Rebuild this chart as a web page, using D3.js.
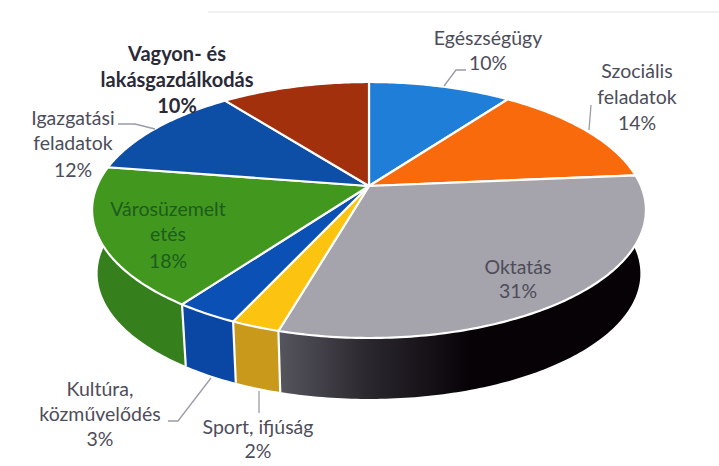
<!DOCTYPE html>
<html><head><meta charset="utf-8">
<style>html,body{margin:0;background:#fff}svg{display:block}text{font-family:Lato,"Open Sans",sans-serif}</style>
<script src="https://cdn.jsdelivr.net/npm/d3@7/dist/d3.min.js"></script></head>
<body><svg id="c" width="719" height="466"></svg>
<script>
const categories=["Egészségügy","Szociális feladatok","Oktatás","Sport, ifjúság","Kultúra, közművelődés","Városüzemeltetés","Igazgatási feladatok","Vagyon- és lakásgazdálkodás"];
const shares=[10,13.6,30.8,2.4,3.1,17.6,12.1,10.4];
const topColors=["#1f7fd8","#f96a0c","#a5a3ab","#fcc410","#0b50b4","#42981f","#0d4fa6","#a2300c"];
const wallColors=["#155a9c","#b04a08","url(#okt)","#c8991a","#0a47a4","#357f1c","#0a3d80","#74220a"];
const labelLines=[["Egészségügy"],["Szociális","feladatok"],["Oktatás"],["Sport, ifjúság"],["Kultúra,","közművelődés"],["Városüzemelt","etés"],["Igazgatási","feladatok"],["Vagyon- és","lakásgazdálkodás"]];

const svg=d3.select("#c");
const defs=svg.append("defs");
const g=defs.append("linearGradient").attr("id","okt").attr("gradientUnits","userSpaceOnUse").attr("x1",280).attr("x2",470).attr("y1",0).attr("y2",0);
g.append("stop").attr("offset",0).attr("stop-color","#55555d");
g.append("stop").attr("offset",.45).attr("stop-color","#2c2830");
g.append("stop").attr("offset",1).attr("stop-color","#060206");

// faint scan residue along the top of the page
svg.append("line").attr("x1",208).attr("x2",719).attr("y1",12).attr("y2",12).attr("stroke","#f1f1f1").attr("stroke-width",2);

// perspective projection of the pie disc
const cx=369,cy=186,R=272,S=123.5,k=0.1875,depth=64,shrink=0.98;
const project=(a,r,low)=>{
  const X=Math.sin(a)*r,Y=-Math.cos(a)*r,w=1-k*Y,s=low?shrink:1;
  return [cx+s*R*X/w,cy+s*S*Y/w+(low?depth:0)];
};
const arcs=d3.pie().sort(null).value(d=>d)(shares);
const samples=d=>{const n=Math.max(4,Math.ceil((d.endAngle-d.startAngle)/0.015));
  return d3.range(n+1).map(i=>d.startAngle+(d.endAngle-d.startAngle)*i/n);};
const line=d3.line();

// walls
svg.append("g").selectAll("path").data(arcs).join("path")
  .attr("fill",(d,i)=>wallColors[i])
  .attr("d",d=>{const t=samples(d);
    return line(t.map(a=>project(a,1,false)).concat(t.slice().reverse().map(a=>project(a,1,true))))+"Z";});
// wall separators on the visible front
svg.append("g").selectAll("path").data(arcs.filter(d=>Math.cos(d.endAngle)<-0.3)).join("path")
  .attr("fill","none").attr("stroke","#fff").attr("stroke-width",2.2)
  .attr("d",d=>line([project(d.endAngle,1,false),project(d.endAngle,1,true)]));
// top faces
svg.append("g").selectAll("path").data(arcs).join("path")
  .attr("fill",(d,i)=>topColors[i]).attr("stroke","#fff").attr("stroke-width",2.2).attr("stroke-linejoin","round")
  .attr("d",d=>line([[cx,cy]].concat(samples(d).map(a=>project(a,1,false))))+"Z");

// labels
const layout=[
 {x:488,y:[45],p:70},{x:637,y:[78,104],p:130},{x:518,y:[274],p:298},{x:258,y:[434],p:458},
 {x:100,y:[396,421],p:446},{x:168,y:[216,241],p:268,fill:"#1c5c1c"},{x:73,y:[125,150],p:177},
 {x:177,y:[61,87],p:113,bold:true,fill:"#2a2a38"}];
layout.forEach((l,i)=>{
  const t=svg.append("text").attr("text-anchor","middle").attr("font-size",l.bold?20:19.5)
    .attr("fill",l.fill||"#4d4d5a").attr("font-weight",l.bold?700:400);
  labelLines[i].forEach((s,j)=>t.append("tspan").attr("x",l.x).attr("y",l.y[j]).text(s));
  t.append("tspan").attr("x",l.x).attr("y",l.p).text(Math.round(shares[i])+"%");
});
// leader lines
const leaders=[[[466,70],[456,70],[444,86]],[[591,105],[589,130]],[[118,124],[135,124],[155,129]],[[168,421],[178,421],[211,378]],[[259,391],[259,413]]];
svg.append("g").selectAll("path").data(leaders).join("path")
  .attr("fill","none").attr("stroke","#9a9aa8").attr("stroke-width",1.3).attr("d",d=>line(d));
</script></body></html>
